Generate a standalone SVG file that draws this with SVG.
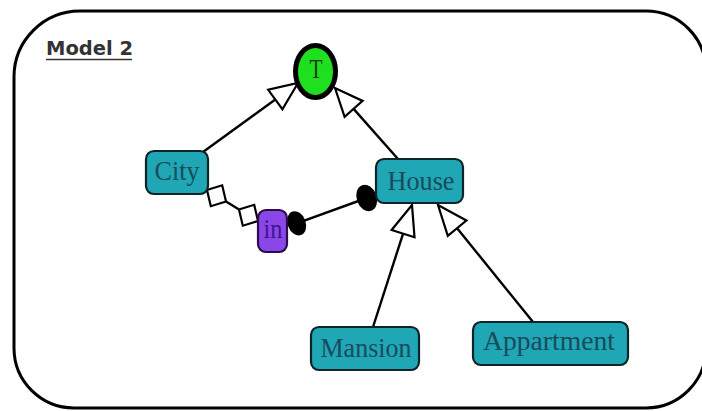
<svg xmlns="http://www.w3.org/2000/svg" width="702" height="411" viewBox="0 0 702 411">
<style>
.box{fill:#1fa7b6;stroke:#0c2328;stroke-width:2.2}
.lbl{font-family:"Liberation Serif",serif;font-size:28px;fill:#1a4b5b;text-anchor:middle}
.edge{stroke:#000;stroke-width:2.4;fill:none}
.hollow{fill:#fff;stroke:#000;stroke-width:2.2;stroke-linejoin:miter}
.dot{fill:#000}
</style>
<rect width="702" height="411" fill="#fff"/>
<path d="M 80 11 H 646 A 60 60 0 0 1 706 71 V 348 A 60 60 0 0 1 646 408 H 74 A 60 60 0 0 1 14 348 V 77 A 66 66 0 0 1 80 11 Z" fill="none" stroke="#000" stroke-width="3"/>
<g id="title">
<text x="46" y="55" font-family="DejaVu Sans,sans-serif" font-weight="bold" font-size="19.5" fill="#333">Model 2</text>
<line x1="46" y1="59.5" x2="132" y2="59.5" stroke="#333" stroke-width="1.6"/>
</g>
<g id="connectors">
<line class="edge" x1="203" y1="152" x2="275.3" y2="99.5"/>
<polygon class="hollow" points="298,83 282.4,109.2 268.2,89.8"/>
<line class="edge" x1="353.6" y1="108.9" x2="398" y2="159"/>
<polygon class="hollow" points="335,88 344.6,116.9 362.6,100.9"/>
<line class="edge" x1="403.1" y1="233.6" x2="373" y2="327"/>
<polygon class="hollow" points="412,205 391.6,230 414.5,237.2"/>
<line class="edge" x1="457.1" y1="228.2" x2="533" y2="322"/>
<polygon class="hollow" points="438,205 447.8,235.8 466.4,220.5"/>
<line class="edge" x1="226" y1="201.5" x2="239" y2="209.5"/>
<polygon class="hollow" points="207,190 210.8,206.2 226,201.5 222.2,185.3"/>
<polygon class="hollow" points="239,209.5 242.8,225.7 258,221 254.2,204.8"/>
<line class="edge" x1="296.7" y1="223.3" x2="366.7" y2="198"/>
<ellipse class="dot" cx="296.7" cy="223.3" rx="9" ry="12.5" transform="rotate(-20 296.7 223.3)"/>
<ellipse class="dot" cx="366.7" cy="198" rx="10" ry="13.5" transform="rotate(-20 366.7 198)"/>
</g>
<g id="T">
<ellipse cx="315.5" cy="71.5" rx="20" ry="26" fill="#1fe01f" stroke="#000" stroke-width="5"/>
<text class="lbl" x="316" y="78" textLength="13" lengthAdjust="spacingAndGlyphs" style="fill:#1a3a1a">T</text>
</g>
<g id="City">
<rect class="box" x="146" y="151" width="62" height="43" rx="8"/>
<text class="lbl" x="177" y="180" textLength="45" lengthAdjust="spacingAndGlyphs">City</text>
</g>
<g id="House">
<rect class="box" x="376" y="159" width="87" height="44" rx="8"/>
<text class="lbl" x="421" y="190" textLength="67" lengthAdjust="spacingAndGlyphs">House</text>
</g>
<g id="in">
<rect x="258" y="210" width="29" height="42" rx="8" fill="#8b46e8" stroke="#2a0c4a" stroke-width="2.2"/>
<text class="lbl" x="273" y="238" textLength="19" lengthAdjust="spacingAndGlyphs" style="fill:#3e1590">in</text>
</g>
<g id="Mansion">
<rect class="box" x="311" y="327" width="108" height="43" rx="8"/>
<text class="lbl" x="366" y="357" textLength="91" lengthAdjust="spacingAndGlyphs">Mansion</text>
</g>
<g id="Appartment">
<rect class="box" x="473" y="322" width="155" height="43" rx="8"/>
<text class="lbl" x="549" y="350" textLength="132" lengthAdjust="spacingAndGlyphs">Appartment</text>
</g>
</svg>
